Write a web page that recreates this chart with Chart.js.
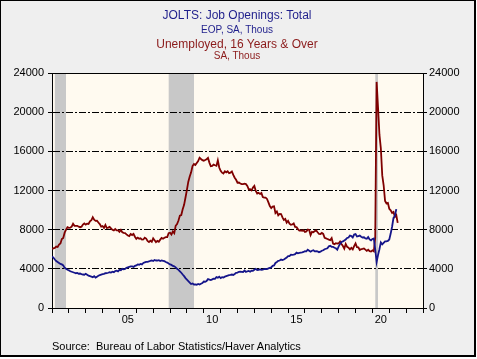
<!DOCTYPE html>
<html>
<head>
<meta charset="utf-8">
<script src="https://cdn.jsdelivr.net/npm/chart.js@4.4.0/dist/chart.umd.min.js"></script>
<style>
  body { margin: 0; background: #fff; }
  #frame {
    position: absolute; left: 0; top: 0; width: 473px; height: 354px;
    background: #efefef;
    border-left: 1px solid #000; border-top: 1px solid #000;
    border-right: 2px solid #000; border-bottom: 2px solid #000;
  }
  #chart { position: absolute; left: 0; top: 0; }
  .t {
    position: absolute; left: 0; width: 474px; text-align: center;
    font-family: "Liberation Sans", Arial, sans-serif; white-space: nowrap;
  }
  #source {
    position: absolute; left: 52px; top: 340px;
    font-family: "Liberation Sans", Arial, sans-serif; font-size: 11px;
    line-height: 12px; color: #000; white-space: pre;
  }
</style>
</head>
<body>
<div id="frame"></div>
<canvas id="chart" width="477" height="359"></canvas>
<div class="t" style="top:9px;font-size:12px;line-height:13px;color:#1f1f8c">JOLTS: Job Openings: Total</div>
<div class="t" style="top:24px;font-size:10px;line-height:11px;color:#1f1f8c">EOP, SA, Thous</div>
<div class="t" style="top:38px;font-size:12px;line-height:13px;color:#8b1a1a">Unemployed, 16 Years &amp; Over</div>
<div class="t" style="top:50px;font-size:10px;line-height:11px;color:#8b1a1a">SA, Thous</div>
<div id="source">Source:  Bureau of Labor Statistics/Haver Analytics</div>
<script>
// monthly, first value = Jan 2001
const startYear = 2001;

// JOLTS job openings, thousands (Jan 2001 - Jun 2021)
const openings = [
  5250, 5150, 4950, 4800, 4700, 4600, 4500, 4450, 4350, 4100, 4000, 3900,
  3850, 3750, 3700, 3650, 3600, 3550, 3580, 3500, 3520, 3450, 3420, 3400,
  3500, 3400, 3300, 3250, 3200, 3150, 3250, 3100, 3200, 3300, 3350, 3400,
  3450, 3480, 3550, 3560, 3600, 3650, 3620, 3700, 3650, 3780, 3820, 3750,
  3900, 3850, 4000, 3950, 3980, 4100, 4150, 4200, 4250, 4250, 4200, 4300,
  4350, 4450, 4420, 4500, 4450, 4600, 4650, 4700, 4720, 4750, 4820, 4850,
  4800, 4900, 4850, 4850, 4880, 4800, 4860, 4820, 4780, 4700, 4640, 4540,
  4450, 4400, 4300, 4250, 4150, 4000, 3900, 3750, 3600, 3420, 3250, 3050,
  2900, 2750, 2600, 2450, 2500, 2400, 2420, 2380, 2450, 2400, 2480, 2550,
  2700, 2680, 2750, 2950, 2900, 2850, 2920, 3000, 2980, 3150, 3100, 3200,
  3050, 3150, 3120, 3200, 3250, 3300, 3350, 3380, 3420, 3380, 3480, 3600,
  3620, 3700, 3720, 3700, 3680, 3820, 3680, 3750, 3780, 3700, 3820, 3800,
  3900, 4000, 3880, 3900, 3950, 3900, 3920, 3980, 4000, 3980, 4050, 4100,
  4150, 4300, 4350, 4600, 4700, 4820, 4850, 4950, 4900, 4950, 5050, 5150,
  5300, 5300, 5450, 5420, 5450, 5500, 5650, 5580, 5620, 5650, 5680, 5720,
  5800, 5780, 5950, 5850, 5750, 5850, 5900, 5780, 5800, 5780, 5700, 5750,
  5850, 5900, 6000, 6050, 6100, 6300, 6350, 6250, 6250, 6150, 6100, 5950,
  6300, 6550, 6750, 6800, 6900, 7000, 7150, 7200, 7400, 7350, 7200, 7500,
  7550, 7300, 7350, 7400, 7280, 7200, 7220, 7100, 7080, 7250, 7000, 6900,
  7050, 7100, 6000, 4700, 5400, 6000, 6700, 6500, 6650, 6800, 6800, 6850,
  7000, 7600, 8300, 9200, 9400, 10100
];

// Unemployed 16 years & over, thousands (Jan 2001 - Jul 2021)
const unemployed = [
  6023, 6089, 6141, 6271, 6226, 6484, 6583, 7042, 7142, 7694, 8003, 8258,
  8182, 8215, 8304, 8599, 8399, 8393, 8390, 8304, 8251, 8307, 8520, 8640,
  8520, 8618, 8588, 8842, 8957, 9266, 9011, 8896, 8921, 8732, 8576, 8317,
  8370, 8167, 8491, 8170, 8212, 8286, 8136, 7990, 7927, 8061, 7932, 7934,
  7784, 7980, 7737, 7672, 7651, 7524, 7406, 7345, 7553, 7453, 7566, 7279,
  7064, 7184, 7072, 7120, 6980, 7001, 7175, 7091, 6847, 6727, 6872, 6762,
  7116, 6927, 6731, 6850, 6766, 6979, 7149, 7067, 7170, 7237, 7240, 7645,
  7685, 7497, 7822, 7637, 8395, 8575, 8937, 9438, 9494, 10074, 10538, 11286,
  12058, 12898, 13426, 13853, 14499, 14707, 14601, 14814, 15009, 15352, 15219, 15098,
  15046, 15113, 15202, 15325, 14849, 14474, 14512, 14648, 14579, 14516, 15081, 14348,
  14013, 13820, 13737, 13957, 13855, 13962, 13763, 13818, 13948, 13594, 13302, 13093,
  12797, 12813, 12713, 12646, 12660, 12692, 12656, 12471, 12115, 12124, 12005, 12298,
  12471, 11950, 11689, 11760, 11654, 11751, 11335, 11279, 11270, 11136, 10787, 10404,
  10202, 10349, 10380, 9702, 9859, 9460, 9608, 9599, 9262, 8990, 9090, 8717,
  8903, 8610, 8504, 8526, 8640, 8287, 8260, 8057, 7906, 7922, 7893, 7933,
  7768, 7818, 8019, 7967, 7454, 7780, 7734, 7855, 7929, 7735, 7560, 7552,
  7664, 7563, 7158, 7109, 7052, 6981, 6936, 7137, 6581, 6523, 6622, 6587,
  6600, 6778, 6543, 6332, 6062, 6544, 6237, 6168, 5987, 6135, 5979, 6319,
  6590, 6216, 6188, 5922, 6002, 6030, 6083, 5969, 5830, 5946, 5810, 5763,
  5892, 5787, 7185, 23090, 20500, 17697, 16308, 13542, 12535, 10935, 10690, 10736,
  10130, 9972, 9710, 9812, 9316, 9484, 8702
];

// recession shading (decimal years)
const recessionStart = [2001.17, 2007.92, 2020.17];
const recessionEnd = [2001.83, 2009.42, 2020.33];

const yTicks = [0, 4000, 8000, 12000, 16000, 20000, 24000];
const labelYears = [2005, 2010, 2015, 2020];

const toPoints = arr => arr.map((v, i) => ({ x: startYear + i / 12, y: v }));

const font = { family: "'Liberation Sans', Arial, sans-serif", size: 11 };

const backdrop = {
  id: 'backdrop',
  beforeDraw(chart) {
    const { ctx, chartArea: a, scales: { x } } = chart;
    ctx.save();
    ctx.fillStyle = '#fffaf0';
    ctx.fillRect(a.left, a.top, a.right - a.left, a.bottom - a.top);
    ctx.fillStyle = '#c8c8c8';
    recessionStart.forEach((s, i) => {
      const x0 = x.getPixelForValue(s);
      const x1 = x.getPixelForValue(recessionEnd[i]);
      ctx.fillRect(x0, a.top, x1 - x0, a.bottom - a.top);
    });
    ctx.restore();
  },
  beforeDatasetsDraw(chart) {
    const { ctx, chartArea: a } = chart;
    ctx.save();
    ctx.strokeStyle = '#000';
    ctx.lineWidth = 1;
    ctx.beginPath();
    ctx.moveTo(a.left, Math.round(a.top) + 0.5);
    ctx.lineTo(a.right, Math.round(a.top) + 0.5);
    ctx.stroke();
    ctx.restore();
  }
};

const yAxis = (pos, width, pad) => ({
  position: pos,
  min: 0, max: 24000,
  afterBuildTicks: s => { s.ticks = yTicks.map(v => ({ value: v })); },
  ticks: { padding: pad, color: '#000', font, callback: v => String(v) },
  grid: {
    drawOnChartArea: pos === 'left',
    tickLength: 4,
    tickColor: '#000',
    color: c => (c.tick && c.tick.value > 0 && c.tick.value < 24000) ? '#000' : 'rgba(0,0,0,0)'
  },
  border: { color: '#000', width: 1, dash: [7, 2, 2, 2] },
  afterFit: s => { s.width = width; }
});

new Chart(document.getElementById('chart'), {
  type: 'line',
  data: {
    datasets: [
      {
        label: 'JOLTS: Job Openings: Total',
        data: toPoints(openings),
        borderColor: '#15158a',
        borderWidth: 1.8,
        pointRadius: 0,
        yAxisID: 'y'
      },
      {
        label: 'Unemployed, 16 Years & Over',
        data: toPoints(unemployed),
        borderColor: '#7f0000',
        borderWidth: 1.8,
        pointRadius: 0,
        yAxisID: 'y'
      }
    ]
  },
  options: {
    responsive: false,
    devicePixelRatio: 1,
    animation: false,
    layout: { padding: { top: 73, left: 0, right: 0, bottom: 0 } },
    plugins: { legend: { display: false }, tooltip: { enabled: false } },
    scales: {
      x: {
        type: 'linear',
        min: 2001, max: 2023,
        ticks: {
          stepSize: 1,
          autoSkip: false,
          maxRotation: 0,
          padding: 0,
          labelOffset: 8.4,
          color: '#000',
          font,
          callback: v => labelYears.includes(v) ? String(v).slice(2) : ''
        },
        grid: { drawOnChartArea: false, tickLength: 5, color: '#000', tickColor: '#000' },
        border: { color: '#000', width: 1 },
        afterFit: s => { s.height = 51; }
      },
      y: yAxis('left', 52, 4),
      y1: yAxis('right', 54, 2)
    }
  },
  plugins: [backdrop]
});
</script>
</body>
</html>
